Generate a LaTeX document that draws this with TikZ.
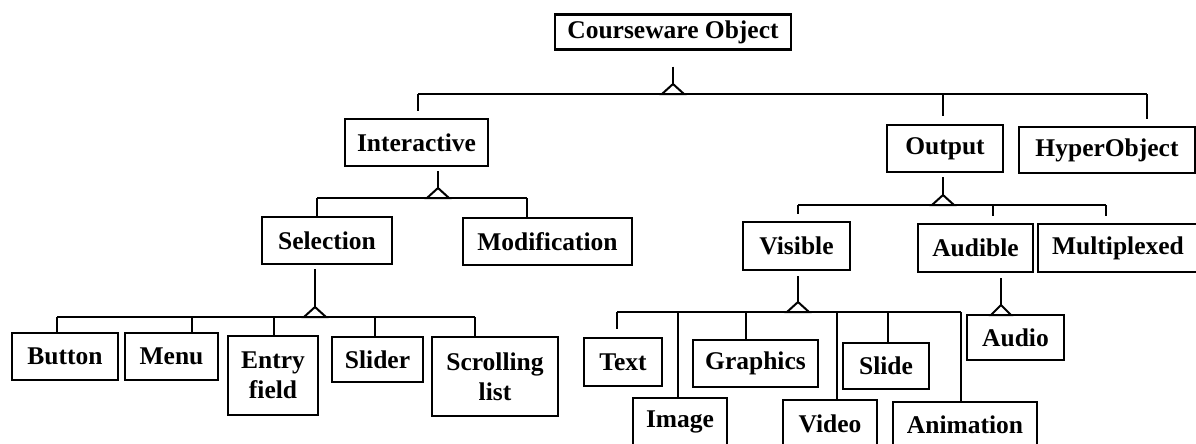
\documentclass[tikz,border=0pt]{standalone}
\usepackage{fontspec}
\setmainfont{Liberation Serif}
\begin{document}
\begin{tikzpicture}[x=1pt,y=-1pt,
  line width=2.3pt,
  cls/.style={draw, line width=2.3pt, inner sep=0pt, align=center,
    font=\fontsize{25.5}{30}\selectfont\bfseries},
  link/.style={line width=2.3pt},
  tri/.style={draw, fill=white, line width=2pt, line join=miter},
]
\useasboundingbox (0,0) rectangle (1196,444);
\clip (0,0) rectangle (1196,444);

% ---- classes ----
\node[cls, minimum width=236, minimum height=35] (cw)     at (673,32)     {Courseware Object};
\node[cls, minimum width=143, minimum height=47] (inter)  at (416.5,142.5){Interactive};
\node[cls, minimum width=116, minimum height=47] (out)    at (945,148.5)  {Output};
\node[cls, minimum width=176, minimum height=46] (hyper)  at (1107,150)   {HyperObject};
\node[cls, minimum width=130, minimum height=47] (sel)    at (327,240.5)  {Selection};
\node[cls, minimum width=169, minimum height=47] (mod)    at (547.5,241.5){Modification};
\node[cls, minimum width=107, minimum height=48] (vis)    at (796.5,246)  {Visible};
\node[cls, minimum width=115, minimum height=48] (aud)    at (975.5,248)  {Audible};
\node[cls, minimum width=160, minimum height=48] (mux)    at (1118,248)   {Multiplexed};
\node[cls, minimum width=106, minimum height=47] (button) at (65,356.5)   {Button};
\node[cls, minimum width=93,  minimum height=47] (menu)   at (171.5,356.5){Menu};
\node[cls, minimum width=90,  minimum height=79] (entry)  at (273,375.5)  {Entry\\field};
\node[cls, minimum width=91,  minimum height=45] (slider) at (377.5,359.5){Slider};
\node[cls, minimum width=126, minimum height=79] (scroll) at (495,376.5)  {Scrolling\\list};
\node[cls, minimum width=78,  minimum height=48] (text)   at (623,362)    {Text};
\node[cls, minimum width=125, minimum height=47] (graph)  at (755.5,363.5){Graphics};
\node[cls, minimum width=86,  minimum height=46] (slide)  at (886,366)    {Slide};
\node[cls, minimum width=94,  minimum height=48] (image)  at (680,422)    {Image};
\node[cls, minimum width=94,  minimum height=48] (video)  at (830,424)    {Video};
\node[cls, minimum width=144, minimum height=46] (anim)   at (965,425)    {Animation};
\node[cls, minimum width=97,  minimum height=45] (audio)  at (1015.5,337.5){Audio};

% ---- generalisation: Courseware Object ----
\coordinate (t-cw) at (673,84);
\coordinate (l-inter) at (418,94);
\coordinate (l-out)   at (943,94);
\coordinate (l-hyper) at (1147,94);
\draw[link, shorten <=16pt] (t-cw |- cw.south) -- (t-cw);
\draw[link] (l-inter) -- (l-hyper);
\draw[link, shorten >=7pt] (l-inter) -- (l-inter |- inter.north);
\draw[link, shorten >=8pt] (l-out) -- (l-out |- out.north);
\draw[link, shorten >=7pt] (l-hyper) -- (l-hyper |- hyper.north);
\draw[tri] (t-cw) -- ++(-11,10) -- ++(22,0) -- cycle;

% ---- generalisation: Interactive ----
\coordinate (t-inter) at (438,188);
\coordinate (l-sel) at (317,198);
\coordinate (l-mod) at (527,198);
\draw[link, shorten <=4pt] (t-inter |- inter.south) -- (t-inter);
\draw[link] (l-sel) -- (l-mod);
\draw[link] (l-sel) -- (l-sel |- sel.north);
\draw[link] (l-mod) -- (l-mod |- mod.north);
\draw[tri] (t-inter) -- ++(-11,10) -- ++(22,0) -- cycle;

% ---- generalisation: Selection ----
\coordinate (t-sel) at (315,307);
\coordinate (l-button) at (57,317);
\coordinate (l-menu)   at (192,317);
\coordinate (l-entry)  at (274,317);
\coordinate (l-slider) at (375,317);
\coordinate (l-scroll) at (475,317);
\draw[link, shorten <=4pt] (t-sel |- sel.south) -- (t-sel);
\draw[link] (l-button) -- (l-scroll);
\foreach \c in {button,menu,entry,slider,scroll}
  \draw[link] (l-\c) -- (l-\c |- \c.north);
\draw[tri] (t-sel) -- ++(-11,10) -- ++(22,0) -- cycle;

% ---- generalisation: Output ----
\coordinate (t-out) at (943,195);
\coordinate (l-vis) at (798,205);
\coordinate (l-aud) at (993,205);
\coordinate (l-mux) at (1106,205);
\draw[link, shorten <=4pt] (t-out |- out.south) -- (t-out);
\draw[link] (l-vis) -- (l-mux);
\foreach \c in {vis,aud,mux}
  \draw[link, shorten >=7pt] (l-\c) -- (l-\c |- \c.north);
\draw[tri] (t-out) -- ++(-11,10) -- ++(22,0) -- cycle;

% ---- generalisation: Visible ----
\coordinate (t-vis) at (798,302);
\coordinate (l-text)  at (617,312);
\coordinate (l-image) at (678,312);
\coordinate (l-graph) at (746,312);
\coordinate (l-video) at (837,312);
\coordinate (l-slide) at (888,312);
\coordinate (l-anim)  at (961,312);
\draw[link, shorten <=5pt] (t-vis |- vis.south) -- (t-vis);
\draw[link] (l-text) -- (l-anim);
\draw[link, shorten >=8pt] (l-text) -- (l-text |- text.north);
\foreach \c in {image,graph,video,slide,anim}
  \draw[link] (l-\c) -- (l-\c |- \c.north);
\draw[tri] (t-vis) -- ++(-11,10) -- ++(22,0) -- cycle;

% ---- generalisation: Audible ----
\coordinate (t-aud) at (1001,305);
\draw[link, shorten <=5pt] (t-aud |- aud.south) -- (t-aud);
\draw[tri] (t-aud) -- ++(-10,10) -- ++(20,0) -- cycle;
\end{tikzpicture}
\end{document}
